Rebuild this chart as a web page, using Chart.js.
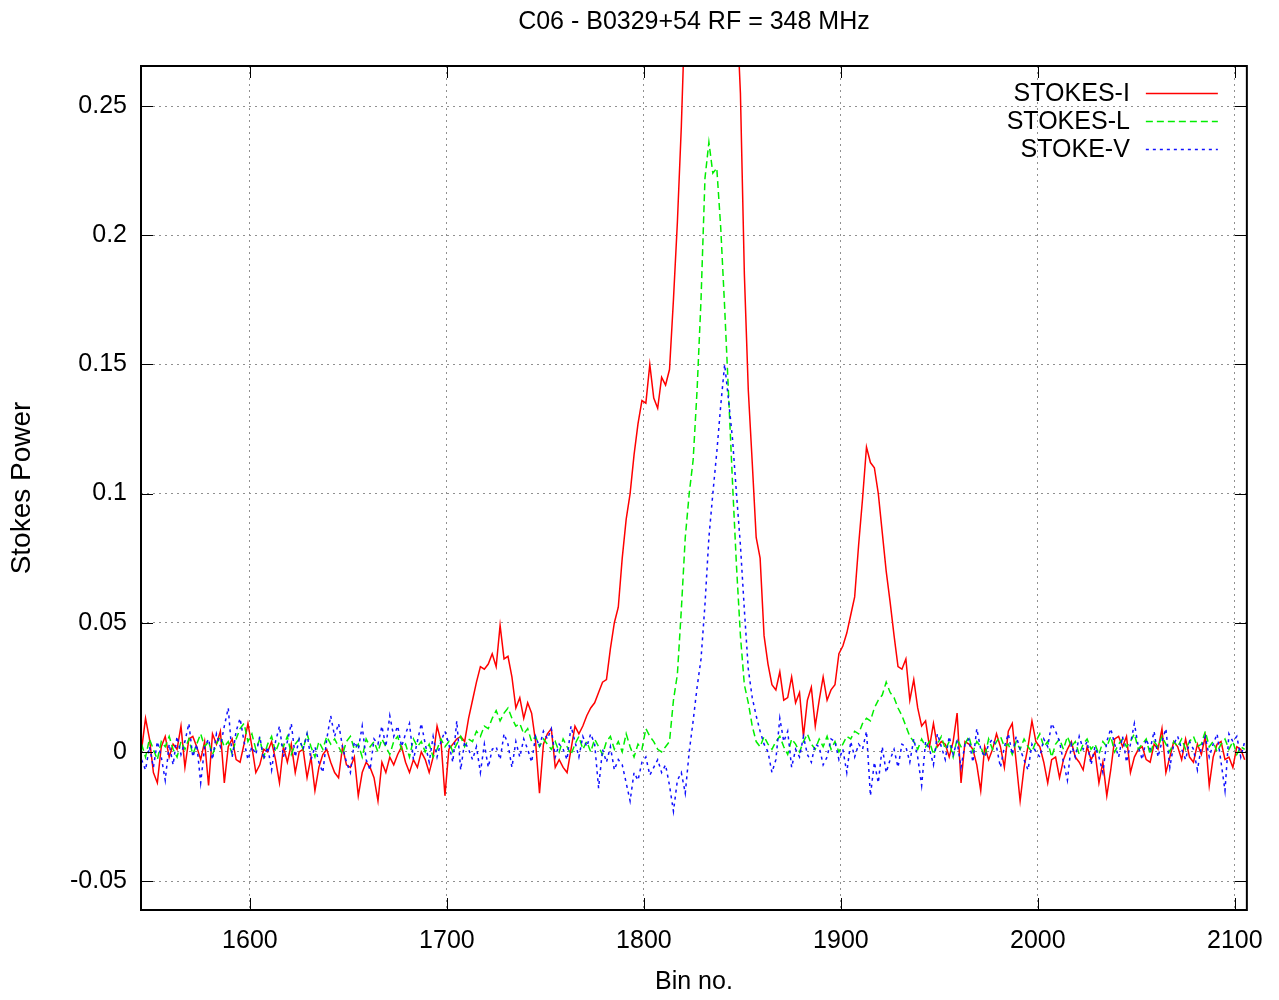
<!DOCTYPE html>
<html>
<head>
<meta charset="utf-8">
<title>C06 - B0329+54 RF = 348 MHz</title>
<script src="https://cdn.jsdelivr.net/npm/chart.js@4.4.0/dist/chart.umd.min.js"></script>
<style>
    body { margin: 0; background: #fff; }
    #wrap { width: 1279px; height: 1000px; }
</style>
</head>
<body>
<div id="wrap"><canvas id="stokes-chart" width="1279" height="1000"></canvas></div>
<script>
// bins are sampled every 2nd bin from 1545 to 2105
const binStart = 1545;
const binStep = 2;

// STOKES-I (red, solid)
const stokesI = [
    0.001, 0.013, 0.005, -0.008, -0.012, 0.002, 0.006, -0.002, 0.003, 0.001,
    0.010, -0.006, 0.005, 0.006, 0.002, -0.003, 0.004, -0.013, 0.007, 0.003,
    0.008, -0.012, 0.002, 0.005, -0.003, -0.004, 0.003, 0.011, 0.002, -0.008,
    -0.005, 0.001, 0.000, 0.004, -0.003, -0.012, 0.002, -0.004, 0.003, -0.008,
    0.000, 0.001, -0.010, -0.002, -0.015, -0.006, -0.001, 0.001, -0.004, -0.008,
    -0.010, 0.002, -0.005, -0.006, -0.002, -0.017, -0.008, -0.004, -0.006, -0.010,
    -0.019, -0.004, -0.008, -0.002, -0.005, -0.001, 0.002, -0.004, -0.008, -0.003,
    -0.006, 0.000, -0.003, -0.008, -0.002, 0.010, 0.004, -0.017, 0.001, 0.003,
    0.005, 0.006, 0.004, 0.013, 0.020, 0.027, 0.033, 0.032, 0.034, 0.038,
    0.033, 0.049, 0.036, 0.037, 0.029, 0.017, 0.021, 0.013, 0.019, 0.015,
    0.004, -0.016, 0.003, 0.007, 0.009, -0.006, -0.003, -0.006, -0.008, 0.001,
    0.010, 0.007, 0.010, 0.014, 0.017, 0.019, 0.023, 0.027, 0.028, 0.040,
    0.050, 0.056, 0.075, 0.090, 0.100, 0.115, 0.127, 0.136, 0.135, 0.150,
    0.137, 0.133, 0.145, 0.142, 0.148, 0.175, 0.205, 0.242, 0.290, 0.330,
    0.350, 0.365, 0.380, 0.390, 0.395, 0.390, 0.380, 0.365, 0.345, 0.325,
    0.310, 0.290, 0.255, 0.185, 0.140, 0.112, 0.083, 0.075, 0.045, 0.034,
    0.026, 0.024, 0.031, 0.020, 0.021, 0.029, 0.019, 0.023, 0.006, 0.020,
    0.025, 0.010, 0.020, 0.029, 0.020, 0.024, 0.026, 0.038, 0.041, 0.046,
    0.053, 0.060, 0.080, 0.098, 0.118, 0.112, 0.110, 0.100, 0.085, 0.070,
    0.058, 0.045, 0.033, 0.032, 0.036, 0.020, 0.028, 0.017, 0.010, 0.012,
    0.002, 0.011, 0.002, 0.004, 0.003, -0.002, 0.004, 0.015, -0.012, 0.004,
    0.003, 0.001, -0.005, -0.015, 0.002, -0.003, 0.001, 0.007, 0.002, -0.006,
    0.008, 0.011, -0.004, -0.019, -0.006, 0.002, 0.012, 0.004, 0.002, -0.004,
    -0.012, -0.003, -0.002, -0.010, -0.003, 0.001, 0.004, -0.002, -0.004, -0.007,
    0.002, -0.003, 0.000, -0.012, -0.004, -0.017, -0.007, 0.005, 0.006, 0.002,
    0.006, -0.008, -0.002, 0.001, 0.002, -0.003, -0.004, 0.003, 0.001, 0.009,
    -0.008, -0.002, 0.004, 0.002, -0.003, 0.005, -0.002, -0.004, 0.003, -0.001,
    0.006, -0.013, -0.002, 0.003, 0.004, -0.003, -0.002, -0.006, 0.002, 0.001,
    -0.003
];

// STOKES-L (green, dashed)
const stokesL = [
    0.003, -0.002, 0.005, 0.001, -0.003, 0.004, 0.002, 0.006, 0.001, -0.002,
    0.004, 0.001, 0.005, -0.001, 0.003, 0.007, 0.002, 0.004, -0.001, 0.003,
    0.006, 0.002, 0.004, -0.001, 0.005, 0.009, 0.011, 0.004, 0.007, 0.001,
    0.005, -0.002, 0.003, 0.006, 0.000, 0.004, 0.002, 0.006, -0.001, 0.003,
    0.005, 0.001, 0.007, 0.002, -0.002, 0.004, 0.001, 0.006, 0.003, 0.005,
    0.002, -0.001, 0.004, 0.006, 0.001, 0.003, -0.002, 0.005, 0.002, 0.004,
    0.000, 0.005, 0.002, -0.001, 0.004, 0.006, 0.001, 0.003, -0.002, 0.005,
    0.002, 0.004, 0.000, 0.003, -0.002, 0.001, 0.005, 0.002, 0.004, 0.000,
    0.003, 0.006, 0.002, 0.005, 0.004, 0.008, 0.006, 0.010, 0.009, 0.013,
    0.016, 0.012, 0.015, 0.017, 0.013, 0.010, 0.011, 0.007, 0.009, 0.004,
    0.006, 0.002, 0.005, 0.003, 0.001, 0.004, 0.000, 0.005, 0.002, -0.001,
    0.003, 0.006, 0.001, 0.004, 0.000, 0.005, 0.002, -0.001, 0.004, 0.006,
    0.001, 0.004, 0.000, 0.007, 0.002, -0.002, 0.003, 0.001, 0.009, 0.006,
    0.004, 0.001, 0.000, 0.002, 0.004, 0.020, 0.030, 0.055, 0.083, 0.100,
    0.113, 0.140, 0.175, 0.222, 0.236, 0.224, 0.226, 0.203, 0.172, 0.138,
    0.104, 0.072, 0.045, 0.026, 0.019, 0.010, 0.004, 0.002, 0.006, 0.003,
    0.001, 0.004, 0.006, 0.002, -0.001, 0.005, 0.003, 0.000, 0.004, 0.007,
    0.003, 0.001, 0.005, 0.002, 0.006, 0.001, 0.004, 0.000, 0.003, 0.006,
    0.005, 0.008, 0.007, 0.011, 0.013, 0.012, 0.017, 0.020, 0.022, 0.027,
    0.023, 0.021, 0.017, 0.014, 0.010, 0.006, 0.004, 0.001, 0.005, 0.002,
    0.004, -0.001, 0.003, 0.006, 0.001, 0.004, -0.002, 0.005, 0.002, 0.003,
    0.006, 0.000, 0.004, 0.002, -0.002, 0.005, 0.001, 0.004, 0.006, 0.002,
    0.003, -0.001, 0.004, 0.001, 0.005, 0.002, 0.000, 0.004, 0.007, 0.002,
    0.004, -0.002, 0.003, 0.005, 0.001, 0.006, 0.002, 0.004, -0.001, 0.003,
    0.005, 0.001, 0.003, -0.001, 0.004, 0.002, 0.006, 0.000, 0.003, 0.005,
    0.002, 0.004, 0.007, 0.001, 0.003, 0.005, -0.001, 0.004, 0.002, 0.006,
    0.003, 0.000, 0.004, 0.002, 0.005, 0.001, 0.004, 0.006, 0.002, 0.003,
    0.008, 0.002, 0.004, 0.000, 0.003, 0.005, 0.001, 0.004, -0.001, 0.002,
    0.001
];

// STOKE-V (blue, dotted)
const stokesV = [
    -0.003, -0.007, 0.002, -0.006, 0.004, -0.002, -0.011, 0.003, -0.005, 0.006,
    -0.001, 0.004, 0.011, -0.002, 0.003, -0.012, 0.002, 0.005, -0.003, 0.007,
    0.002, 0.010, 0.017, -0.002, 0.008, 0.013, 0.004, -0.003, 0.002, -0.001,
    0.006, -0.003, 0.002, -0.007, 0.004, 0.010, -0.002, 0.004, 0.011, -0.002,
    0.005, 0.001, 0.007, -0.003, 0.002, -0.004, -0.008, 0.005, 0.014, 0.006,
    0.011, 0.002, -0.004, -0.008, 0.004, 0.001, 0.010, -0.003, -0.007, 0.005,
    0.003, 0.010, 0.002, 0.014, 0.006, 0.010, 0.002, 0.007, 0.011, -0.003,
    0.004, 0.011, 0.003, -0.004, 0.006, -0.002, 0.004, 0.008, 0.003, -0.004,
    0.012, -0.007, 0.004, 0.001, -0.003, 0.002, -0.008, 0.003, -0.006, 0.001,
    0.002, -0.003, 0.007, 0.003, -0.006, 0.004, -0.002, 0.005, 0.001, -0.004,
    0.006, 0.002, 0.008, 0.005, 0.009, -0.002, 0.003, 0.001, -0.003, 0.010,
    0.004, -0.002, 0.006, 0.002, 0.007, 0.003, -0.014, 0.001, -0.004, 0.002,
    -0.007, -0.003, -0.005, -0.012, -0.019, -0.008, -0.011, -0.004, -0.002, -0.009,
    -0.006, -0.003, -0.008, -0.005, -0.013, -0.023, -0.011, -0.008, -0.016, 0.000,
    0.012, 0.025, 0.036, 0.057, 0.083, 0.100, 0.116, 0.134, 0.150, 0.136,
    0.121, 0.100, 0.080, 0.055, 0.032, 0.021, 0.014, 0.008, 0.003, 0.000,
    -0.008, -0.003, 0.013, 0.004, 0.008, -0.006, 0.001, -0.002, 0.006, -0.001,
    -0.004, 0.003, 0.002, -0.005, -0.002, 0.005, 0.004, -0.003, 0.001, -0.008,
    0.004, -0.002, 0.003, 0.001, 0.008, -0.017, -0.004, -0.012, 0.002, -0.008,
    -0.003, 0.001, -0.006, 0.003, 0.002, -0.004, 0.005, -0.002, -0.013, 0.004,
    0.001, -0.005, 0.007, 0.002, -0.003, 0.006, -0.001, 0.004, -0.006, 0.003,
    0.005, -0.004, 0.009, 0.001, -0.002, 0.003, 0.005, 0.002, -0.006, 0.002,
    0.007, -0.001, 0.006, 0.001, -0.003, -0.007, 0.003, 0.000, -0.002, 0.005,
    0.002, 0.011, 0.008, 0.004, -0.004, -0.011, 0.003, -0.002, 0.006, 0.001,
    0.004, -0.005, 0.002, -0.002, -0.008, 0.004, 0.009, 0.003, -0.002, 0.006,
    -0.004, 0.003, 0.011, 0.002, -0.003, 0.005, 0.001, 0.008, -0.002, 0.004,
    0.009, -0.006, 0.003, 0.006, 0.001, -0.003, 0.004, 0.001, -0.007, 0.002,
    0.006, -0.002, 0.003, 0.007, -0.004, -0.015, 0.007, 0.004, 0.006, -0.002,
    0.004
];

const xTicks = [1600, 1700, 1800, 1900, 2000, 2100];
const yTicks = [-0.05, 0, 0.05, 0.1, 0.15, 0.2, 0.25];

const xMin = 1544.7, xMax = 2106.1;
const yMin = -0.0612, yMax = 0.2655;

const bins = stokesI.map((_, i) => binStart + i * binStep);
const toPoints = (values) => values.map((v, i) => ({ x: bins[i], y: v }));

Chart.defaults.font.family = "'Liberation Sans', Arial, sans-serif";
Chart.defaults.font.size = 25;
Chart.defaults.color = "#000";

// gnuplot style frame: solid border, inward ticks on all sides, key at top right
const gnuplotFrame = {
    id: "gnuplotFrame",
    afterDatasetsDraw(chart) {
        const { ctx, chartArea: a, scales } = chart;
        const tick = 12;
        ctx.save();
        ctx.strokeStyle = "#000";
        ctx.lineWidth = 1;
        ctx.setLineDash([]);
        ctx.beginPath();
        xTicks.forEach((v) => {
            const px = Math.round(scales.x.getPixelForValue(v)) + 0.5;
            ctx.moveTo(px, a.bottom); ctx.lineTo(px, a.bottom - tick);
            ctx.moveTo(px, a.top); ctx.lineTo(px, a.top + tick);
        });
        yTicks.forEach((v) => {
            const py = Math.round(scales.y.getPixelForValue(v)) + 0.5;
            ctx.moveTo(a.left, py); ctx.lineTo(a.left + tick, py);
            ctx.moveTo(a.right, py); ctx.lineTo(a.right - tick, py);
        });
        ctx.stroke();
        ctx.lineWidth = 2;
        ctx.strokeRect(a.left, a.top, a.right - a.left, a.bottom - a.top);

        // key
        ctx.font = "25px 'Liberation Sans', Arial, sans-serif";
        ctx.textAlign = "right";
        ctx.textBaseline = "middle";
        chart.data.datasets.forEach((ds, i) => {
            const y = a.top + 27 + i * 28;
            ctx.fillStyle = "#000";
            ctx.fillText(ds.label, a.right - 117, y + 1);
            ctx.strokeStyle = ds.borderColor;
            ctx.lineWidth = ds.borderWidth;
            ctx.setLineDash(ds.borderDash || []);
            ctx.beginPath();
            ctx.moveTo(a.right - 101, y + 0.5);
            ctx.lineTo(a.right - 29, y + 0.5);
            ctx.stroke();
        });
        ctx.restore();
    },
};

const stokesChart = new Chart(document.getElementById("stokes-chart"), {
    type: "line",
    data: {
        datasets: [
            {
                label: "STOKES-I",
                data: toPoints(stokesI),
                borderColor: "#ff0000",
                borderWidth: 1.5,
                borderDash: [],
                pointRadius: 0,
                order: 3,
            },
            {
                label: "STOKES-L",
                data: toPoints(stokesL),
                borderColor: "#00ee00",
                borderWidth: 1.5,
                borderDash: [7, 4],
                pointRadius: 0,
                order: 2,
            },
            {
                label: "STOKE-V",
                data: toPoints(stokesV),
                borderColor: "#1010ff",
                borderWidth: 1.5,
                borderDash: [3, 4],
                pointRadius: 0,
                order: 1,
            },
        ],
    },
    options: {
        responsive: false,
        animation: false,
        layout: { padding: { left: 0, right: 32, top: 0, bottom: 0 } },
        scales: {
            x: {
                type: "linear",
                min: xMin,
                max: xMax,
                afterBuildTicks: (s) => { s.ticks = xTicks.map((v) => ({ value: v })); },
                afterFit: (s) => { s.height = 90; },
                grid: { color: "#909090", lineWidth: 1, drawTicks: false },
                border: { display: false, dash: [2, 4] },
                ticks: { padding: 16, maxRotation: 0, callback: (v) => String(v) },
                title: {
                    display: true,
                    text: "Bin no.",
                    padding: { top: 0, bottom: 3 },
                },
            },
            y: {
                min: yMin,
                max: yMax,
                afterBuildTicks: (s) => { s.ticks = yTicks.map((v) => ({ value: v })); },
                afterFit: (s) => { s.width = 141; },
                grid: { color: "#909090", lineWidth: 1, drawTicks: false },
                border: { display: false, dash: [2, 4] },
                ticks: { padding: 14, callback: (v) => String(v) },
                title: {
                    display: true,
                    text: "Stokes Power",
                    font: { size: 28 },
                    padding: { top: 5, bottom: 0 },
                },
            },
        },
        plugins: {
            legend: { display: false },
            tooltip: { enabled: false },
            title: {
                display: true,
                text: "C06 - B0329+54 RF = 348 MHz",
                fullSize: false,
                font: { size: 25, weight: "normal" },
                color: "#000",
                padding: { top: 7, bottom: 29 },
            },
        },
    },
    plugins: [gnuplotFrame],
});
</script>
</body>
</html>
